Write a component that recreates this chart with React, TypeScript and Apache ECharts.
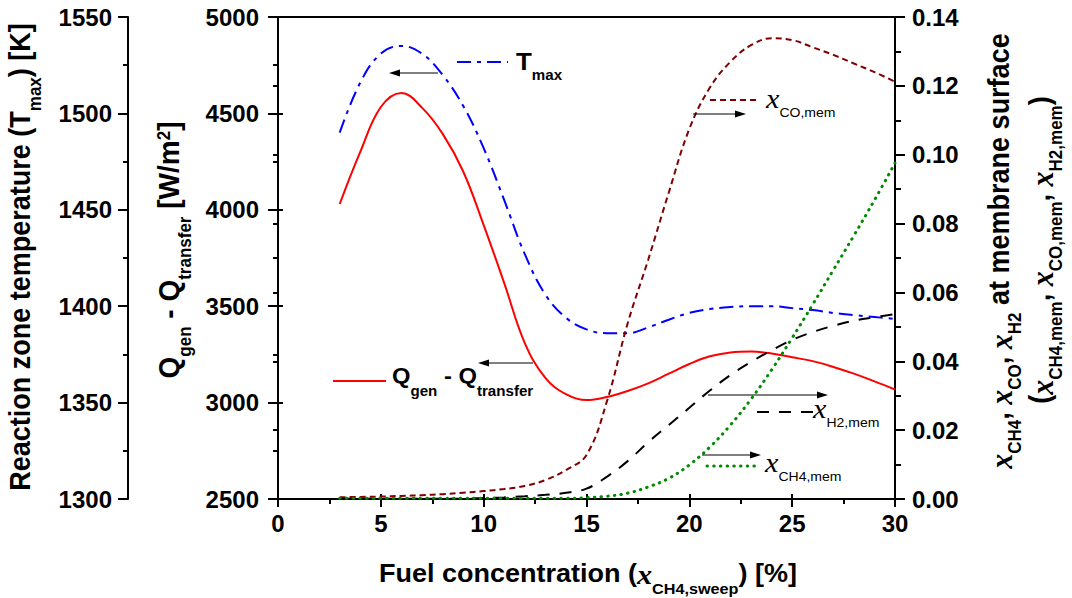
import React, { useEffect, useRef } from "react";
import * as echarts from "echarts";

// ---------- data ----------
const XS = [3, 4, 5, 6, 7, 8, 9, 10, 11, 12, 13, 14, 15, 16, 17, 18, 19, 20, 21, 22, 23, 24, 25, 26, 27, 28, 29, 30];
const Q_NET = [4030, 4300, 4533, 4606, 4530, 4395, 4200, 3921, 3620, 3309, 3128, 3044, 3013, 3029, 3060, 3100, 3150, 3200, 3240, 3260, 3265, 3255, 3235, 3215, 3185, 3150, 3110, 3068];
const T_MAX = [1490, 1516, 1531, 1535, 1531, 1520, 1504, 1482, 1455, 1427, 1406, 1394, 1388, 1386, 1386, 1389, 1393, 1396.5, 1398.5, 1399.6, 1400, 1400, 1399, 1398, 1396.5, 1395.4, 1394.4, 1393.4];
const X_CO_MEM = [0.0005, 0.0006, 0.0007, 0.0009, 0.0011, 0.0014, 0.0018, 0.0023, 0.0029, 0.0038, 0.0055, 0.0084, 0.0128, 0.0285, 0.051, 0.0695, 0.089, 0.1075, 0.1195, 0.127, 0.1318, 0.1338, 0.1333, 0.1312, 0.129, 0.1265, 0.124, 0.1212];
const X_H2_MEM = [0.0001, 0.0001, 0.0001, 0.0001, 0.0001, 0.0001, 0.0001, 0.0003, 0.0005, 0.0008, 0.0012, 0.0018, 0.003, 0.0065, 0.011, 0.0165, 0.0215, 0.0265, 0.0315, 0.036, 0.0398, 0.0432, 0.0462, 0.0485, 0.0503, 0.0518, 0.0528, 0.0537];
const X_CH4_MEM = [0.0002, 0.0002, 0.0002, 0.0002, 0.0002, 0.0002, 0.0002, 0.0002, 0.0002, 0.0002, 0.0002, 0.0002, 0.0004, 0.0008, 0.0017, 0.0035, 0.006, 0.0099, 0.0151, 0.0215, 0.029, 0.0375, 0.0468, 0.0565, 0.0665, 0.0765, 0.0868, 0.0976];

const X_AXIS = { min: 0, max: 30, interval: 5 };
const Q_AXIS = { min: 2500, max: 5000, interval: 500 };
const T_AXIS = { min: 1300, max: 1550, interval: 50 };
const F_AXIS = { min: 0, max: 0.14, interval: 0.02 };

// ---------- styles ----------
const SANS = "Liberation Sans";
const SERIF = "Liberation Serif";
const BLACK = "#000";
const axisLineStyle = { color: BLACK, width: 2 };
const labelStyle = { fontSize: 24, fontWeight: "bold" as const, fontFamily: SANS, color: BLACK };

function mkRich(F: number, Fs: number, L: number, dSub: number, dSup: number, subWeight: string, Fx: number, xWeight: string) {
  const c = L / 2;
  return {
    b: { fontSize: F, fontWeight: "bold", fontFamily: SANS, lineHeight: L, verticalAlign: "top", fill: BLACK },
    s: { fontSize: Fs, fontWeight: subWeight, fontFamily: SANS, lineHeight: Fs, padding: [Math.max(0, c + dSub - Fs / 2), 0, 0, 0], verticalAlign: "top", fill: BLACK },
    u: { fontSize: Fs, fontWeight: "bold", fontFamily: SANS, lineHeight: Fs, padding: [Math.max(0, c - dSup - Fs / 2), 0, 0, 0], verticalAlign: "top", fill: BLACK },
    x: { fontSize: Fx, fontStyle: "italic", fontWeight: xWeight, fontFamily: SERIF, lineHeight: L, verticalAlign: "top", fill: BLACK },
  };
}

function arrow(x1: number, y1: number, x2: number, y2: number) {
  const dir = Math.sign(x2 - x1);
  const head = 11;
  const hw = 3.5;
  return [
    { type: "line", shape: { x1, y1, x2: x2 - dir * head, y2 }, style: { stroke: BLACK, lineWidth: 1.2 }, z: 20 },
    { type: "polygon", shape: { points: [[x2, y2], [x2 - dir * head, y2 - hw], [x2 - dir * head, y2 + hw]] }, style: { fill: BLACK }, z: 20 },
  ];
}

function sample(x1: number, x2: number, y: number, color: string, dash: number[] | null, cap = "butt", width = 2) {
  return {
    type: "line",
    shape: { x1, y1: y, x2, y2: y },
    style: { stroke: color, lineWidth: width, lineDash: dash || undefined, lineCap: cap },
    z: 20,
  };
}

const BLUE_DASH = [14, 6, 4, 6];
const CO_DASH = [6, 4];
const H2_DASH = [12, 10];
const CH4_DASH = [0.5, 6.2];

function pairs(ys: number[]) {
  return XS.map((x, i) => [x, ys[i]]);
}

const ROT = Math.PI / 2;
const SX = 1.08;

function buildOption() {
  const titleRich = mkRich(27, 17, 39, 8, 10, "bold", 30, "bold");
  const qRich = mkRich(28, 17, 40, 9, 10, "bold", 30, "bold");
  const xTitleRich = mkRich(25, 15, 37, 10, 9, "bold", 28, "bold");
  const tLabRich = mkRich(24, 14, 36, 8, 9, "bold", 28, "normal");
  const qLabRich = mkRich(22, 14, 34, 10.6, 9, "bold", 28, "normal");
  const xLabRich = mkRich(22, 13, 36, 10, 9, "normal", 28, "normal");

  const graphic: any[] = [
    // axis titles
    {
      type: "text", x: 5.5, y: 257, rotation: ROT, scaleY: SX, z: 20,
      style: { text: "{b|Reaction zone temperature (T}{s|max}{b|) [K]}", rich: titleRich, align: "center", verticalAlign: "top" },
    },
    {
      type: "text", x: 153, y: 250, rotation: ROT, scaleY: SX, z: 20,
      style: { text: "{b|Q}{s|gen}{b| - Q}{s|transfer}{b| [W/m}{u|2}{b|]}", rich: qRich, align: "center", verticalAlign: "top" },
    },
    {
      type: "text", x: 985, y: 251, rotation: ROT, scaleY: SX, z: 20,
      style: { text: "{x|x}{s|CH4}{b|, }{x|x}{s|CO}{b|, }{x|x}{s|H2}{b| at membrane surface}", rich: titleRich, align: "center", verticalAlign: "top" },
    },
    {
      type: "text", x: 1026, y: 250, rotation: ROT, scaleY: SX, z: 20,
      style: { text: "{b|(}{x|x}{s|CH4,mem}{b|, }{x|x}{s|CO,mem}{b|, }{x|x}{s|H2,mem}{b|)}", rich: titleRich, align: "center", verticalAlign: "top" },
    },
    {
      type: "text", x: 588, y: 560.5, scaleX: SX, z: 20,
      style: { text: "{b|Fuel concentration (}{x|x}{s|CH4,sweep}{b|) [%]}", rich: xTitleRich, align: "center", verticalAlign: "top" },
    },
    // in-plot labels
    sample(457, 508, 62, "#0000ff", BLUE_DASH),
    { type: "text", x: 516, y: 49.2, scaleX: SX, z: 20, style: { text: "{b|T}{s|max}", rich: tLabRich, align: "left", verticalAlign: "top" } },
    ...arrow(438, 73, 389, 73),

    sample(333, 386, 381, "#ff0000", null),
    { type: "text", x: 392, y: 364, scaleX: SX, z: 20, style: { text: "{b|Q}{s|gen}{b| - Q}{s|transfer}", rich: qLabRich, align: "left", verticalAlign: "top" } },
    ...arrow(533, 363, 478, 363),

    sample(710, 758, 100, "#800000", CO_DASH),
    { type: "text", x: 766, y: 84.5, scaleX: SX, z: 20, style: { text: "{x|x}{s|CO,mem}", rich: xLabRich, align: "left", verticalAlign: "top" } },
    ...arrow(693, 114, 746, 114),

    sample(757, 813, 412, BLACK, H2_DASH),
    { type: "text", x: 813, y: 394.5, scaleX: SX, z: 20, style: { text: "{x|x}{s|H2,mem}", rich: xLabRich, align: "left", verticalAlign: "top" } },
    ...arrow(708, 395, 828, 395),

    sample(707, 757, 466, "#008a00", CH4_DASH, "round", 3),
    { type: "text", x: 765, y: 448.5, scaleX: SX, z: 20, style: { text: "{x|x}{s|CH4,mem}", rich: xLabRich, align: "left", verticalAlign: "top" } },
    ...arrow(702, 455, 761, 455),
  ];

  const tickStyle = { color: BLACK, width: 2 };
  const hidden = { show: false };
  const plain = (v: number) => String(v);

  return {
    animation: false,
    backgroundColor: "#fff",
    grid: { left: 278, right: 177, top: 17, bottom: 99, containLabel: false, outerBoundsMode: "none" },
    xAxis: [
      {
        type: "value", position: "bottom", ...X_AXIS,
        axisLine: { show: true, onZero: false, lineStyle: axisLineStyle },
        axisTick: { show: true, inside: false, length: 8, lineStyle: tickStyle },
        minorTick: { show: true, splitNumber: 2, length: 5, lineStyle: tickStyle },
        axisLabel: { ...labelStyle, margin: 12, formatter: plain },
        splitLine: hidden, minorSplitLine: hidden,
      },
      {
        type: "value", position: "bottom", ...X_AXIS,
        axisLine: hidden,
        axisTick: { show: true, inside: true, length: 5, lineStyle: tickStyle },
        axisLabel: hidden, splitLine: hidden,
      },
      {
        type: "value", position: "top", ...X_AXIS,
        axisLine: { show: true, onZero: false, lineStyle: axisLineStyle },
        axisTick: hidden, axisLabel: hidden, splitLine: hidden,
      },
    ],
    yAxis: [
      {
        type: "value", position: "left", offset: 0, ...Q_AXIS,
        axisLine: { show: true, onZero: false, lineStyle: axisLineStyle },
        axisTick: { show: true, inside: false, length: 10, lineStyle: tickStyle },
        minorTick: { show: true, splitNumber: 2, length: 5, lineStyle: tickStyle },
        axisLabel: { ...labelStyle, margin: 19, formatter: plain },
        splitLine: hidden, minorSplitLine: hidden,
      },
      {
        type: "value", position: "left", offset: 150, ...T_AXIS,
        axisLine: { show: true, onZero: false, lineStyle: axisLineStyle },
        axisTick: { show: true, inside: false, length: 10, lineStyle: tickStyle },
        minorTick: { show: true, splitNumber: 2, length: 5, lineStyle: tickStyle },
        axisLabel: { ...labelStyle, margin: 16, formatter: plain },
        splitLine: hidden, minorSplitLine: hidden,
      },
      {
        type: "value", position: "right", offset: 0, ...F_AXIS,
        axisLine: { show: true, onZero: false, lineStyle: axisLineStyle },
        axisTick: { show: true, inside: false, length: 10, lineStyle: tickStyle },
        minorTick: { show: true, splitNumber: 2, length: 6, lineStyle: tickStyle },
        axisLabel: { ...labelStyle, margin: 17, formatter: (v: number) => v.toFixed(2) },
        splitLine: hidden, minorSplitLine: hidden,
      },
      {
        type: "value", position: "left", offset: 0, ...Q_AXIS,
        axisLine: hidden,
        axisTick: { show: true, inside: true, length: 5, lineStyle: tickStyle },
        axisLabel: hidden, splitLine: hidden,
      },
      {
        type: "value", position: "right", offset: 0, ...F_AXIS,
        axisLine: hidden,
        axisTick: { show: true, inside: true, length: 5, lineStyle: tickStyle },
        axisLabel: hidden, splitLine: hidden,
      },
    ],
    series: [
      {
        type: "line", name: "Tmax", xAxisIndex: 0, yAxisIndex: 1, data: pairs(T_MAX),
        symbol: "none", smooth: 0.4,
        lineStyle: { color: "#0000ff", width: 2, type: BLUE_DASH },
      },
      {
        type: "line", name: "Qgen - Qtransfer", xAxisIndex: 0, yAxisIndex: 0, data: pairs(Q_NET),
        symbol: "none", smooth: 0.4,
        lineStyle: { color: "#ff0000", width: 2 },
      },
      {
        type: "line", name: "xCO,mem", xAxisIndex: 0, yAxisIndex: 2, data: pairs(X_CO_MEM),
        symbol: "none", smooth: 0.4,
        lineStyle: { color: "#800000", width: 2, type: CO_DASH },
      },
      {
        type: "line", name: "xH2,mem", xAxisIndex: 0, yAxisIndex: 2, data: pairs(X_H2_MEM),
        symbol: "none", smooth: 0.4,
        lineStyle: { color: BLACK, width: 2, type: H2_DASH },
      },
      {
        type: "line", name: "xCH4,mem", xAxisIndex: 0, yAxisIndex: 2, data: pairs(X_CH4_MEM),
        symbol: "none", smooth: 0.4,
        lineStyle: { color: "#008a00", width: 3, type: CH4_DASH, cap: "round" },
      },
    ],
    graphic,
  };
}

export default function App() {
  const ref = useRef<HTMLDivElement>(null);
  useEffect(() => {
    if (!ref.current) return;
    const chart = echarts.init(ref.current, null, { renderer: "svg" });
    chart.setOption(buildOption() as any);
    return () => chart.dispose();
  }, []);
  return (
    <div
      ref={ref}
      style={{ position: "absolute", left: 0, top: 0, width: 1072, height: 598, background: "#fff" }}
    />
  );
}
